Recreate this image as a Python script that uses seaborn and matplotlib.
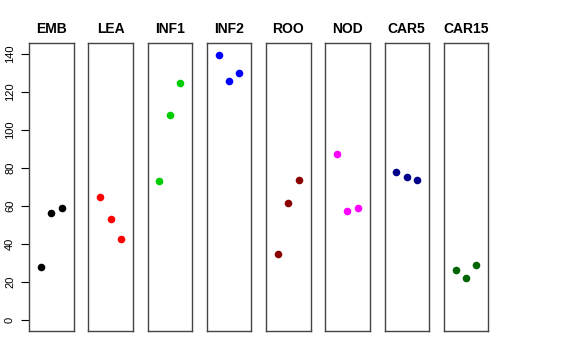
import matplotlib
matplotlib.use("Agg")
import matplotlib.pyplot as plt
import seaborn as sns
import pandas as pd

sns.set_style("white")
plt.rcParams['font.family'] = ['Liberation Sans', 'DejaVu Sans']
plt.rcParams['text.color'] = 'black'
plt.rcParams['ytick.color'] = 'black'

# data: three measurements per tissue
tissues = ["EMB", "LEA", "INF1", "INF2", "ROO", "NOD", "CAR5", "CAR15"]
colors = ["#000000", "#FF0000", "#00CD00", "#0000FF", "#8B0000", "#FF00FF", "#00008B", "#006400"]
reps = [1, 2, 3]
emb = [28.0, 56.2, 59.2]
lea = [64.7, 53.2, 42.8]
inf1 = [73.2, 107.8, 124.7]
inf2 = [139.3, 125.9, 129.7]
roo = [35.0, 61.4, 73.8]
nod = [87.1, 57.2, 58.8]
car5 = [78.1, 75.0, 73.6]
car15 = [26.4, 22.3, 28.9]
values = [emb, lea, inf1, inf2, roo, nod, car5, car15]

W, H = 576, 360
fig = plt.figure(figsize=(W / 100, H / 100), dpi=100)

left0, step, pw = 29, 59.25, 44.5
top, bottom = 43, 331

for i, (name, col, vals) in enumerate(zip(tissues, colors, values)):
    x0 = left0 + i * step
    ax = fig.add_axes([x0 / W, 1 - bottom / H, pw / W, (bottom - top) / H])
    df = pd.DataFrame({"rep": reps, "val": vals})
    sns.scatterplot(data=df, x="rep", y="val", color=col, s=30, linewidth=0, ax=ax)
    ax.set_xlim(-0.15, 4.15)
    ax.set_ylim(-5.6, 145.6)
    ax.set_xticks([])
    ax.set_xlabel("")
    ax.set_ylabel("")
    for sp in ax.spines.values():
        sp.set_color("#444444")
        sp.set_linewidth(1.0)
    ax.set_title(name, fontsize=10, fontweight="bold", pad=7, color="black")
    if i == 0:
        ax.set_yticks(range(0, 141, 20))
        ax.tick_params(axis="y", direction="out", length=6, width=0.8, left=True,
                       labelsize=8, pad=4, labelrotation=90, colors="black")
        for lab in ax.get_yticklabels():
            lab.set_verticalalignment("center")
    else:
        ax.set_yticks([])

fig.savefig("out.png", dpi=100)
